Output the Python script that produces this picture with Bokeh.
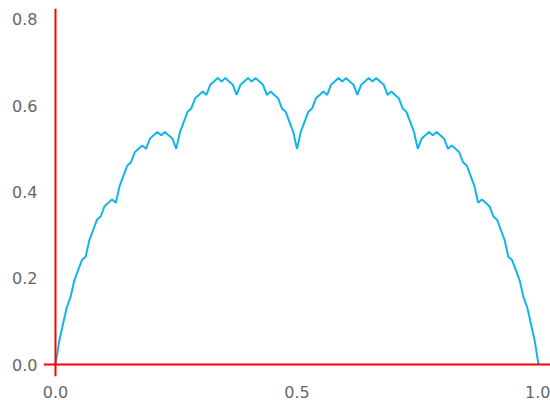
from bokeh.plotting import figure
from bokeh.models import Range1d, FixedTicker, PrintfTickFormatter, Span
from bokeh.embed import file_html
from bokeh.resources import INLINE
import numpy as np

# Curve values read at 129 evenly spaced x positions on [0, 1]
x_vals = np.linspace(0.0, 1.0, 129)
y_vals = [
    0.0, 0.0547, 0.0938, 0.1328, 0.1563, 0.1953, 0.2188, 0.2422, 0.25,
    0.2891, 0.3125, 0.3359, 0.3438, 0.3672, 0.375, 0.3828, 0.375,
    0.4141, 0.4375, 0.4609, 0.4688, 0.4922, 0.5, 0.5078, 0.5,
    0.5234, 0.5313, 0.5391, 0.5313, 0.5391, 0.5313, 0.5234, 0.5,
    0.5391, 0.5625, 0.5859, 0.5938, 0.6172, 0.625, 0.6328, 0.625,
    0.6484, 0.6563, 0.6641, 0.6563, 0.6641, 0.6563, 0.6484, 0.625,
    0.6484, 0.6563, 0.6641, 0.6563, 0.6641, 0.6563, 0.6484, 0.625,
    0.6328, 0.625, 0.6172, 0.5938, 0.5859, 0.5625, 0.5391, 0.5,
    0.5391, 0.5625, 0.5859, 0.5938, 0.6172, 0.625, 0.6328, 0.625,
    0.6484, 0.6563, 0.6641, 0.6563, 0.6641, 0.6563, 0.6484, 0.625,
    0.6484, 0.6563, 0.6641, 0.6563, 0.6641, 0.6563, 0.6484, 0.625,
    0.6328, 0.625, 0.6172, 0.5938, 0.5859, 0.5625, 0.5391, 0.5,
    0.5234, 0.5313, 0.5391, 0.5313, 0.5391, 0.5313, 0.5234, 0.5,
    0.5078, 0.5, 0.4922, 0.4688, 0.4609, 0.4375, 0.4141, 0.375,
    0.3828, 0.375, 0.3672, 0.3438, 0.3359, 0.3125, 0.2891, 0.25,
    0.2422, 0.2188, 0.1953, 0.1563, 0.1328, 0.0938, 0.0547, 0.0,
]
x_ticks = [0.0, 0.5, 1.0]
y_ticks = [0.0, 0.2, 0.4, 0.6, 0.8]

p = figure(width=550, height=400, output_backend="svg", toolbar_location=None,
           x_range=Range1d(-0.0248, 1.0248), y_range=Range1d(-0.0277, 0.8254),
           min_border_left=43, min_border_right=0, min_border_top=8, min_border_bottom=23)
p.outline_line_color = None
p.grid.visible = False

p.line(x_vals, y_vals, line_color="#12b5ea", line_width=2)

# red zero lines acting as the visible axis lines
p.add_layout(Span(location=0, dimension="height", line_color="#ff0000", line_width=2))
p.add_layout(Span(location=0, dimension="width", line_color="#ff0000", line_width=2))

for ax, ticks in ((p.xaxis, x_ticks), (p.yaxis, y_ticks)):
    ax.ticker = FixedTicker(ticks=ticks)
    ax.formatter = PrintfTickFormatter(format="%.1f")
    ax.axis_line_color = None
    ax.major_tick_line_color = None
    ax.minor_tick_line_color = None
    ax.major_tick_out = 0
    ax.major_tick_in = 0
    ax.major_label_text_font = "DejaVu Sans"
    ax.major_label_text_font_size = "16px"
    ax.major_label_text_color = "#666666"
p.yaxis.major_label_standoff = 6
p.xaxis.major_label_standoff = 9

open("out.html", "w").write(file_html(p, INLINE))
